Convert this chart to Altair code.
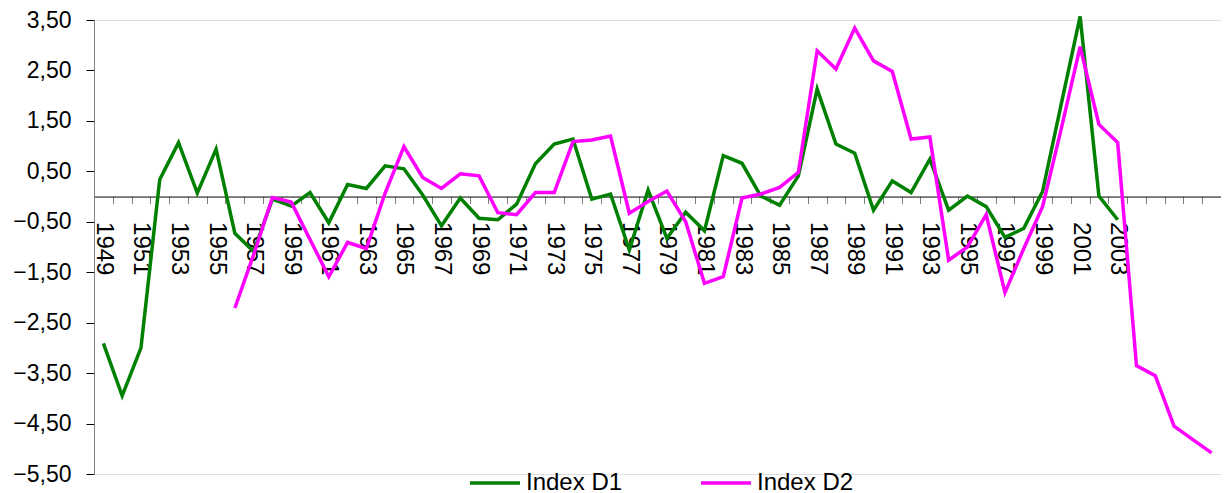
import altair as alt
import pandas as pd

years = list(range(1949, 2009))

d1_years = list(range(1949, 2004))
d1_values = [-2.91, -3.95, -3.00, 0.34, 1.07, 0.07, 0.94, -0.73, -1.09, -0.05,
             -0.19, 0.08, -0.52, 0.24, 0.16, 0.61, 0.55, 0.03, -0.58, -0.03,
             -0.43, -0.46, -0.15, 0.65, 1.04, 1.14, -0.05, 0.05, -1.06, 0.13,
             -0.83, -0.31, -0.68, 0.81, 0.66, 0.01, -0.17, 0.41, 2.13, 1.04,
             0.86, -0.27, 0.31, 0.08, 0.74, -0.27, 0.01, -0.20, -0.81, -0.63,
             0.10, 1.84, 3.57, 0.01, -0.46]

d2_years = list(range(1956, 2009))
d2_values = [-2.21, -1.15, -0.02, -0.11, -0.85, -1.59, -0.91, -1.03, 0.07, 0.99,
             0.38, 0.16, 0.45, 0.41, -0.32, -0.36, 0.08, 0.08, 1.09, 1.12,
             1.20, -0.33, -0.10, 0.11, -0.50, -1.72, -1.59, -0.03, 0.05, 0.18,
             0.48, 2.89, 2.53, 3.34, 2.69, 2.48, 1.14, 1.18, -1.26, -1.00,
             -0.36, -1.90, -1.03, -0.20, 1.35, 2.97, 1.43, 1.07, -3.35, -3.55,
             -4.55, -4.82, -5.08]

series_names = ["Index D1", "Index D2"]
series_colors = ["#008000", "#FF00FF"]

y_ticks = [-5.5, -4.5, -3.5, -2.5, -1.5, -0.5, 0.5, 1.5, 2.5, 3.5]
label_years = list(range(1949, 2004, 2))
last_label_year = 2003

df = pd.concat([
    pd.DataFrame({"year": d1_years, "value": d1_values, "series": series_names[0]}),
    pd.DataFrame({"year": d2_years, "value": d2_values, "series": series_names[1]}),
], ignore_index=True)

W = 1127
H = 454
y_min, y_max = -5.5, 3.5
x_min, x_max = years[0] - 0.5, years[-1] + 0.5
FONT = "Liberation Sans"

tick_bounds = [y - 0.5 for y in years] + [years[-1] + 0.5]
x_axis_values = tick_bounds + label_years
zero_offset = -H * (0 - y_min) / (y_max - y_min)

chart = alt.Chart(df).mark_line(strokeWidth=3.5, strokeJoin="miter").encode(
    x=alt.X(
        "year:Q",
        scale=alt.Scale(domain=[x_min, x_max], nice=False, zero=False),
        axis=alt.Axis(
            title=None,
            values=x_axis_values,
            labelExpr=f"(datum.value % 1 == 0 && datum.value % 2 == 1 && datum.value <= {last_label_year}) ? ('' + datum.value) : ''",
            labelAngle=90,
            labelAlign="left",
            labelBaseline="middle",
            labelFontSize=24,
            labelFont=FONT,
            labelColor="#000000",
            labelPadding=18,
            labelOverlap=False,
            labelFlush=False,
            labelBound=False,
            tickSize=7,
            tickColor="#808080",
            tickOpacity=alt.condition("datum.value % 1 == 0", alt.value(0), alt.value(1)),
            domainColor="#000000",
            domainWidth=1,
            grid=False,
            offset=zero_offset,
        ),
    ),
    y=alt.Y(
        "value:Q",
        scale=alt.Scale(domain=[y_min, y_max], nice=False, zero=False),
        axis=alt.Axis(
            title=None,
            values=y_ticks,
            labelExpr="replace(format(datum.value, '.2f'), '.', ',')",
            labelFontSize=23,
            labelFont=FONT,
            labelColor="#000000",
            labelPadding=15,
            tickSize=8,
            tickColor="#000000",
            domainColor="#808080",
            grid=False,
            labelOverlap=False,
            labelFlush=False,
        ),
    ),
    color=alt.Color(
        "series:N",
        scale=alt.Scale(domain=series_names, range=series_colors),
        legend=alt.Legend(
            title=None,
            orient="none",
            legendX=374,
            legendY=436,
            direction="horizontal",
            symbolType="stroke",
            symbolSize=2500,
            symbolStrokeWidth=3.5,
            labelFontSize=24,
            labelFont=FONT,
            labelColor="#000000",
            labelOffset=4,
            columnPadding=71,
            padding=0,
        ),
    ),
    detail="series:N",
).properties(
    width=W,
    height=H,
    autosize=alt.AutoSizeParams(type="none"),
    padding={"left": 86, "top": 12, "right": 0, "bottom": 20},
).configure_view(stroke=None).configure(background="#ffffff")

chart.save("out.html", embed_options={"renderer": "svg", "actions": False})
